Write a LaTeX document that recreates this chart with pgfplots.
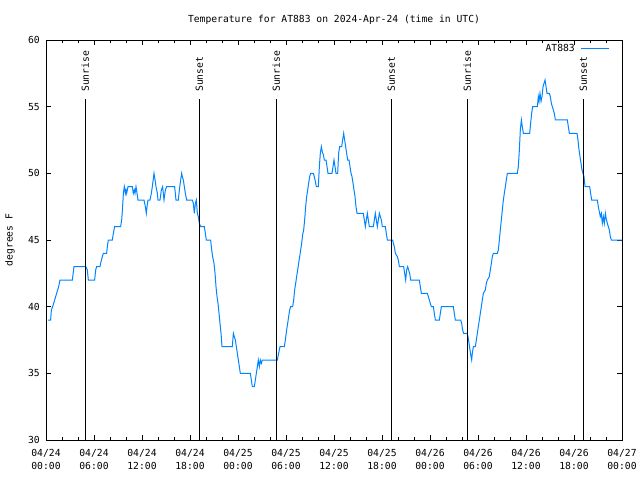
\documentclass[border=0pt]{standalone}
\usepackage{fontspec}
\setmainfont{DejaVu Sans Mono}
\setmonofont{DejaVu Sans Mono}
\usepackage{pgfplots}
\pgfplotsset{compat=1.18}
\definecolor{gpblue}{RGB}{0,132,255}

\begin{document}
\begin{tikzpicture}[font=\fontsize{9.7}{12.7}\selectfont]
\useasboundingbox (0,0) rectangle (640pt,480pt);
\begin{axis}[
    at={(46pt,40pt)}, anchor=south west,
    scale only axis, width=576pt, height=400pt,
    xmin=0, xmax=72, ymin=30, ymax=60,
    clip=false,
    /pgf/number format/assume math mode=true,
    axis line style={line width=0.8pt},
    tick pos=both, tick align=inside,
    major tick length=5pt, minor tick length=3pt,
    every tick/.style={black, line width=0.8pt},
    xtick={0,6,...,72},
    minor xtick={0,2,...,72},
    xticklabels={04/24\\00:00,04/24\\06:00,04/24\\12:00,04/24\\18:00,
                 04/25\\00:00,04/25\\06:00,04/25\\12:00,04/25\\18:00,
                 04/26\\00:00,04/26\\06:00,04/26\\12:00,04/26\\18:00,
                 04/27\\00:00},
    xticklabel style={align=center, inner sep=0pt, yshift=-9pt},
    ytick={30,35,...,60},
    yticklabel style={inner sep=0pt, xshift=-6pt},
    ylabel={degrees F},
    every axis y label/.style={at={(rel axis cs:-0.0625,0.5)}, rotate=90, anchor=center},
    title={Temperature for AT883 on 2024-Apr-24 (time in UTC)},
    every axis title/.style={at={(rel axis cs:0.5,1.05)}, anchor=center},
    legend style={draw=none, fill=none, at={(rel axis cs:1,1)}, anchor=north east,
        xshift=-12pt, yshift=-4pt, inner sep=0pt, column sep=6pt,
        nodes={inner sep=0pt}},
    legend plot pos=right,
    legend image code/.code={\draw[#1] (0pt,0pt) -- (28pt,0pt);},
]
\addplot[gpblue, line width=1pt] coordinates {
(0.25,39) (0.58,39) (0.67,39.75) (0.83,40) (1.08,40.5) (1.33,41) (1.58,41.5) (1.75,42)
(3.29,42) (3.5,43) (4.96,43) (5.17,42.75) (5.29,42) (6.08,42) (6.21,42.75) (6.33,43)
(6.75,43) (6.83,43.25) (7.04,43.75) (7.17,44) (7.58,44) (7.67,44.5) (7.79,45) (8.29,45)
(8.42,45.5) (8.58,46) (9.33,46) (9.46,46.5) (9.58,47.5) (9.67,48.5) (9.79,49) (9.92,48.5)
(10.0,48.75) (10.08,48.5) (10.25,49) (10.79,49) (10.92,48.5) (11.04,48.75) (11.13,48.5)
(11.25,49) (11.38,48.5) (11.5,48) (12.25,48) (12.42,47.5) (12.54,47) (12.63,47.5) (12.75,48)
(13.0,48) (13.17,48.5) (13.29,49) (13.5,50) (13.63,49.5) (13.75,49) (13.92,48.5) (14.0,48)
(14.25,48) (14.42,48.75) (14.58,49) (14.75,48) (14.92,48.75) (15.08,49) (16.08,49) (16.25,48)
(16.54,48) (16.67,48.75) (16.83,49.5) (16.96,50) (17.04,49.75) (17.17,49.5) (17.29,49)
(17.42,48.5) (17.58,48) (18.29,48) (18.42,47.75) (18.54,47) (18.67,47.75) (18.79,48)
(18.92,47) (19.04,46.75) (19.17,46.25) (19.33,46) (19.79,46) (19.92,45.5) (20.04,45)
(20.58,45) (20.71,44.25) (20.83,43.75) (21.0,43.25) (21.13,42.5) (21.25,41.5) (21.38,40.75)
(21.5,40.25) (21.63,39.5) (21.75,38.75) (21.88,38) (22.0,37) (23.29,37) (23.42,38)
(23.54,37.75) (23.67,37.5) (23.79,37) (23.92,36.5) (24.04,36) (24.17,35.5) (24.29,35)
(25.54,35) (25.67,34.5) (25.79,34) (26.04,34) (26.17,34.5) (26.29,35) (26.42,35.5)
(26.54,36) (26.67,35.5) (26.79,36) (26.92,35.75) (27.04,36) (28.92,36) (29.08,36.5)
(29.25,37) (29.79,37) (29.92,37.5) (30.08,38.25) (30.21,38.75) (30.33,39.25) (30.46,39.75)
(30.58,40) (30.83,40) (30.96,40.5) (31.08,41.25) (31.21,41.75) (31.33,42.25) (31.46,42.75)
(31.58,43.25) (31.71,43.75) (31.83,44.25) (31.96,44.75) (32.08,45.4) (32.21,45.75)
(32.33,46.5) (32.46,47.5) (32.58,48.25) (32.71,48.75) (32.83,49.25) (32.96,49.75)
(33.08,50) (33.42,50) (33.54,49.75) (33.67,49.4) (33.79,49) (34.04,49) (34.17,50.5)
(34.29,51.5) (34.42,52) (34.54,51.6) (34.67,51.4) (34.79,51) (35.0,51) (35.13,50.5)
(35.25,50) (35.75,50) (35.88,50.5) (36.0,51) (36.13,50.5) (36.25,50) (36.46,50) (36.58,51.5)
(36.71,52) (36.96,52) (37.08,52.5) (37.21,53) (37.33,52.5) (37.46,52) (37.58,51.5)
(37.71,51) (37.88,51) (38.0,50.5) (38.13,50) (38.25,49.75) (38.38,49.25) (38.5,48.75)
(38.63,48.25) (38.75,47.5) (38.88,47) (39.67,47) (39.79,46.5) (39.92,46) (40.04,46.5)
(40.17,47) (40.29,46.5) (40.42,46) (40.92,46) (41.04,46.5) (41.17,47) (41.29,46.5)
(41.42,46) (41.54,46.5) (41.67,47) (41.79,46.75) (41.92,46.5) (42.04,46) (42.42,46)
(42.54,45.5) (42.67,45) (43.33,45) (43.42,44.75) (43.54,44.5) (43.67,44) (43.92,43.75)
(44.04,43.5) (44.17,43) (44.71,43) (44.83,42.5) (44.96,42) (45.08,42.75) (45.21,43)
(45.33,42.75) (45.46,42.5) (45.58,42) (46.67,42) (46.79,41.5) (46.92,41) (47.67,41)
(47.79,40.75) (47.92,40.5) (48.04,40.25) (48.17,40) (48.42,40) (48.54,39.5) (48.67,39)
(49.17,39) (49.29,39.5) (49.42,40) (50.92,40) (51.04,39.5) (51.17,39) (51.83,39)
(51.96,38.75) (52.08,38.25) (52.21,38) (52.63,38) (52.75,37.75) (52.88,37.25) (53.0,36.75)
(53.13,36.25) (53.21,36) (53.29,36.5) (53.42,37) (53.67,37) (53.79,37.5) (53.92,38)
(54.04,38.5) (54.17,39) (54.29,39.5) (54.42,40) (54.54,40.5) (54.67,41) (54.92,41.25)
(55.04,41.75) (55.17,42) (55.42,42.25) (55.54,42.75) (55.67,43.25) (55.79,43.75) (55.92,44)
(56.42,44) (56.54,44.25) (56.67,45) (56.79,45.75) (56.92,46.5) (57.04,47.25) (57.17,48)
(57.29,48.5) (57.42,49) (57.54,49.5) (57.67,50) (58.92,50) (59.04,50.5) (59.17,51.75)
(59.29,53.25) (59.42,54) (59.54,53.5) (59.67,53) (60.46,53) (60.58,53.75) (60.71,54.5)
(60.83,55) (61.42,55) (61.54,55.75) (61.63,55.4) (61.75,56) (61.88,55.4) (62.0,55.75)
(62.13,56.5) (62.25,56.75) (62.38,57) (62.5,56.5) (62.63,56) (62.92,56) (63.04,55.75)
(63.17,55.25) (63.29,55) (63.42,54.75) (63.54,54.5) (63.67,54) (65.17,54) (65.29,53.5)
(65.42,53) (66.38,53) (66.5,52.5) (66.63,51.75) (66.75,51.25) (66.88,50.75) (67.0,50.25)
(67.13,50) (67.25,49.75) (67.38,49) (67.96,49) (68.08,48.5) (68.21,48) (68.92,48)
(69.04,47.5) (69.17,47.1) (69.29,46.75) (69.42,47) (69.54,46.25) (69.67,46.75) (69.79,46.25)
(69.92,47) (70.04,46.55) (70.17,46.25) (70.29,46) (70.42,45.75) (70.54,45.25) (70.67,45)
(72.0,45)
};
\addlegendentry{AT883}
% sunrise / sunset markers
\addplot[black, line width=0.9pt, forget plot] coordinates {(4.92,30) (4.92,55.57)};
\addplot[black, line width=0.9pt, forget plot] coordinates {(19.17,30) (19.17,55.57)};
\addplot[black, line width=0.9pt, forget plot] coordinates {(28.79,30) (28.79,55.57)};
\addplot[black, line width=0.9pt, forget plot] coordinates {(43.17,30) (43.17,55.57)};
\addplot[black, line width=0.9pt, forget plot] coordinates {(52.67,30) (52.67,55.57)};
\addplot[black, line width=0.9pt, forget plot] coordinates {(67.17,30) (67.17,55.57)};
\node[rotate=90, anchor=west, inner sep=0pt] at (axis cs:4.92,56.1) {Sunrise};
\node[rotate=90, anchor=west, inner sep=0pt] at (axis cs:19.17,56.1) {Sunset};
\node[rotate=90, anchor=west, inner sep=0pt] at (axis cs:28.79,56.1) {Sunrise};
\node[rotate=90, anchor=west, inner sep=0pt] at (axis cs:43.17,56.1) {Sunset};
\node[rotate=90, anchor=west, inner sep=0pt] at (axis cs:52.67,56.1) {Sunrise};
\node[rotate=90, anchor=west, inner sep=0pt] at (axis cs:67.17,56.1) {Sunset};
\end{axis}
\end{tikzpicture}
\end{document}
